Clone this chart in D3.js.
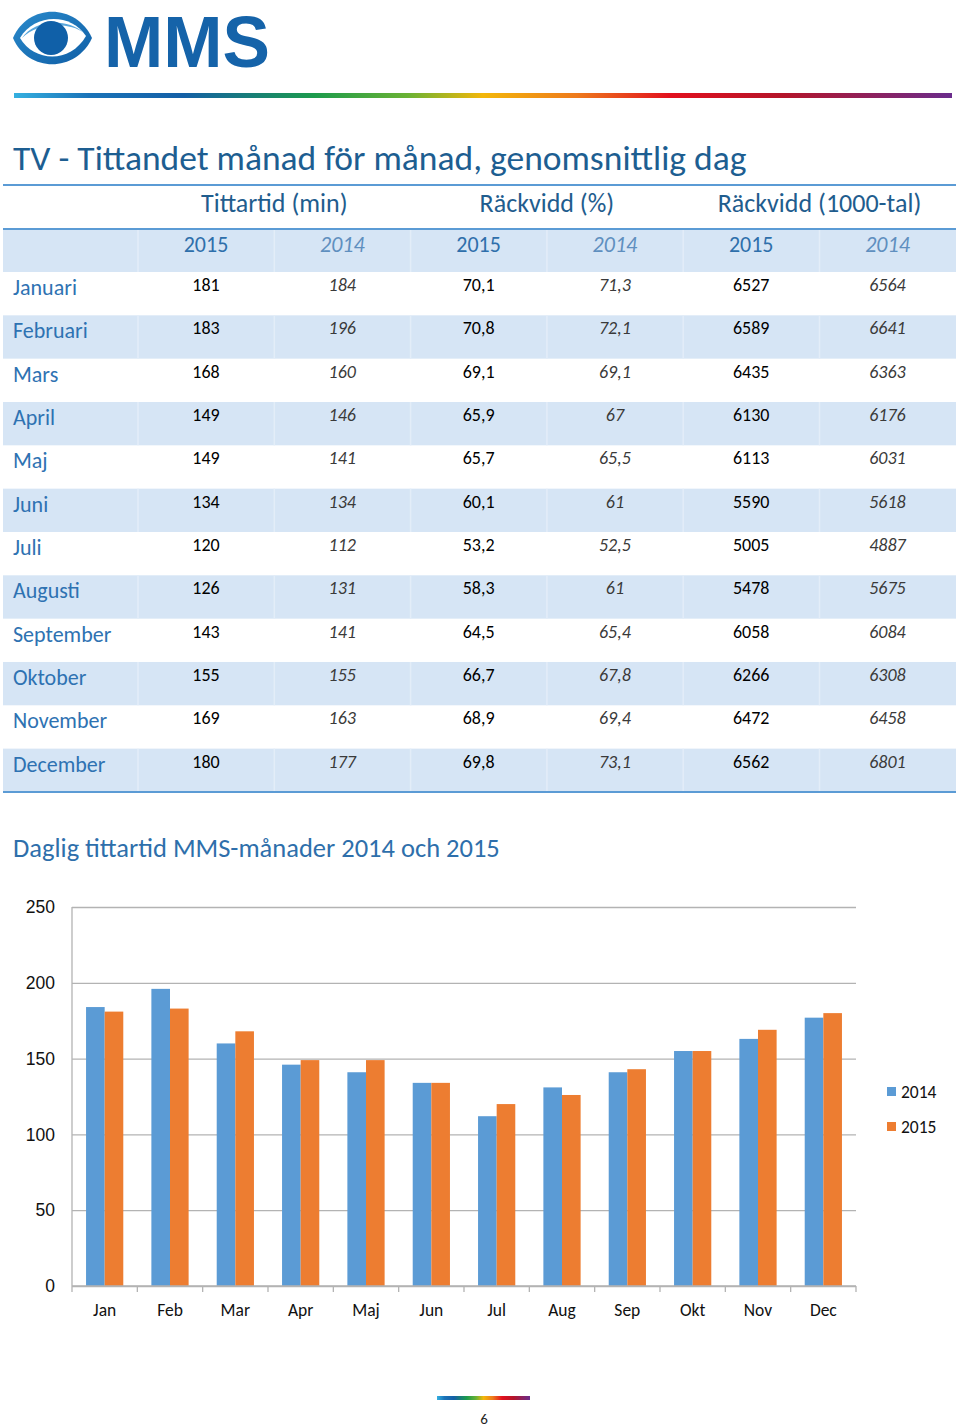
<!DOCTYPE html>
<html><head><meta charset="utf-8">
<script src="https://cdn.jsdelivr.net/npm/d3@7"></script>
<style>
body{margin:0;background:#fff;}
svg{display:block;font-family:Carlito,Calibri,Lato,"Open Sans",sans-serif;}
</style></head>
<body><svg id="c" width="960" height="1428"></svg>
<script>
const months = ["Januari","Februari","Mars","April","Maj","Juni","Juli","Augusti","September","Oktober","November","December"];
const monthShort = ["Jan","Feb","Mar","Apr","Maj","Jun","Jul","Aug","Sep","Okt","Nov","Dec"];
const tid2015 = [181,183,168,149,149,134,120,126,143,155,169,180];
const tid2014 = [184,196,160,146,141,134,112,131,141,155,163,177];
const rpct2015 = ["70,1","70,8","69,1","65,9","65,7","60,1","53,2","58,3","64,5","66,7","68,9","69,8"];
const rpct2014 = ["71,3","72,1","69,1","67","65,5","61","52,5","61","65,4","67,8","69,4","73,1"];
const rtal2015 = [6527,6589,6435,6130,6113,5590,5005,5478,6058,6266,6472,6562];
const rtal2014 = [6564,6641,6363,6176,6031,5618,4887,5675,6084,6308,6458,6801];
const groupHeaders = ["Tittartid (min)","Räckvidd (%)","Räckvidd (1000-tal)"];
const yearHeaders = ["2015","2014","2015","2014","2015","2014"];
const yTicks = [0,50,100,150,200,250];
const seriesNames = ["2014","2015"];

const svg = d3.select("#c");
const defs = svg.append("defs");

// Rainbow gradient
const grad = defs.append("linearGradient").attr("id","rb").attr("x1","0").attr("x2","1").attr("y1","0").attr("y2","0");
[[0,"#35b0e0"],[0.08,"#1a73b8"],[0.18,"#145fa6"],[0.32,"#1c9b4c"],[0.42,"#6ab234"],[0.5,"#f3b70a"],[0.6,"#ee7a1c"],[0.7,"#e2101e"],[0.82,"#b4152a"],[1,"#6a2c8c"]]
 .forEach(([o,c])=>grad.append("stop").attr("offset",o).attr("stop-color",c));

// Logo
const eyeG = defs.append("linearGradient").attr("id","eg").attr("x1","0").attr("x2","1").attr("y1","0").attr("y2","1");
eyeG.append("stop").attr("offset",0).attr("stop-color","#2a8acb");
eyeG.append("stop").attr("offset",1).attr("stop-color","#0f5ea6");
const logo = svg.append("g");
logo.append("path").attr("d","M13,38 C28,3 76,3 92,38 C76,73 28,73 13,38 Z").attr("fill","url(#eg)");
logo.append("path").attr("d","M20,38 C34,14 70,12 86,36 C70,64 34,62 20,38 Z").attr("fill","#fff");
logo.append("path").attr("d","M22,38 C34,20 66,17 84,33 C70,22 38,22 22,38 Z").attr("fill","#5aa7dc");
logo.append("circle").attr("cx",51).attr("cy",38).attr("r",17).attr("fill","#1060a8");
logo.append("text").attr("x",104).attr("y",67).attr("textLength",166).attr("lengthAdjust","spacingAndGlyphs")
  .style("font-family","'Liberation Sans Narrow','Liberation Sans',Arial,sans-serif").style("font-weight","bold")
  .style("font-size","72px").attr("fill","#1563a9").text("MMS");

svg.append("rect").attr("x",14).attr("y",93).attr("width",938).attr("height",5).attr("fill","url(#rb)");
svg.append("rect").attr("x",437).attr("y",1396).attr("width",93).attr("height",4).attr("fill","url(#rb)");
svg.append("text").attr("x",484).attr("y",1424).attr("text-anchor","middle").style("font-size","15px").attr("fill","#222").text("6");

// Title
svg.append("text").attr("x",13).attr("y",170).style("font-size","35.5px").attr("fill","#1d5e91")
  .text("TV - Tittandet månad för månad, genomsnittlig dag");

// Table
const tableX0 = 3, tableX1 = 956;
const colX = d3.range(7).map(i=>138 + i*136.3);
const rowTop = 272, rowH = 43.33;
const blueRows = [{y:229,h:43}];
months.forEach((m,i)=>{ if(i%2===1) blueRows.push({y:rowTop+i*rowH,h:rowH}); });
blueRows.forEach(r=>{
  svg.append("rect").attr("x",tableX0).attr("y",r.y).attr("width",tableX1-tableX0).attr("height",r.h).attr("fill","#d6e5f5");
  colX.slice(0,6).forEach(x=>{
    svg.append("line").attr("x1",x).attr("x2",x).attr("y1",r.y).attr("y2",r.y+r.h).attr("stroke","#e3edf8").attr("stroke-width",1.5);
  });
});
[185,229,792].forEach(y=>svg.append("line").attr("x1",tableX0).attr("x2",tableX1).attr("y1",y).attr("y2",y).attr("stroke","#5b9bd5").attr("stroke-width",2));
groupHeaders.forEach((h,i)=>{
  svg.append("text").attr("x",(colX[i*2]+colX[i*2+2])/2).attr("y",212).attr("text-anchor","middle")
    .style("font-size","26px").attr("fill","#1f5d8e").text(h);
});
yearHeaders.forEach((h,i)=>{
  svg.append("text").attr("x",colX[i]+68).attr("y",252).attr("text-anchor","middle")
    .style("font-size","22px").style("font-style",i%2?"italic":"normal").attr("fill",i%2?"#5f8fbf":"#2e6fab").text(h);
});
const cols = [tid2015,tid2014,rpct2015,rpct2014,rtal2015,rtal2014];
months.forEach((m,i)=>{
  const y = rowTop + i*rowH;
  svg.append("text").attr("x",13).attr("y",y+23).style("font-size","22px").attr("fill","#2e72b2").text(m);
  cols.forEach((c,j)=>{
    svg.append("text").attr("x",colX[j]+68).attr("y",y+19).attr("text-anchor","middle")
      .style("font-size","18px").style("font-style",j%2?"italic":"normal").attr("fill",j%2?"#3a3a3a":"#000").text(c[i]);
  });
});

// Chart title
svg.append("text").attr("x",13).attr("y",857).style("font-size","26.5px").attr("fill","#2e6fab")
  .text("Daglig tittartid MMS-månader 2014 och 2015");

// Chart
const x0 = 72, x1 = 856, yTop = 907, yBot = 1286;
const x = d3.scaleBand().domain(monthShort).range([x0,x1]).paddingInner(0.43).paddingOuter(0.215);
const xs = d3.scaleBand().domain(seriesNames).range([0,x.bandwidth()]);
const y = d3.scaleLinear().domain([0,250]).range([yBot,yTop]);
const colors = {"2014":"#5b9bd5","2015":"#ed7d31"};

const g = svg.append("g");
g.append("g").attr("transform",`translate(${x0},0)`)
  .call(d3.axisLeft(y).tickValues(yTicks).tickSize(-(x1-x0)).tickFormat(d3.format("d")))
  .call(a=>{a.select(".domain").remove();
    a.selectAll(".tick line").attr("stroke","#b3b3b3").attr("stroke-width",1.3);
    a.selectAll(".tick text").attr("x",-17).style("font-size","17.5px").style("font-family","inherit").attr("fill","#111");});
g.append("line").attr("x1",x0).attr("x2",x0).attr("y1",yTop).attr("y2",yBot).attr("stroke","#b3b3b3").attr("stroke-width",1.3);

const data = monthShort.map((m,i)=>({m, "2014":tid2014[i], "2015":tid2015[i]}));
seriesNames.forEach(s=>{
  g.selectAll(null).data(data).enter().append("rect")
    .attr("x",d=>x(d.m)+xs(s)).attr("width",xs.bandwidth())
    .attr("y",d=>y(d[s])).attr("height",d=>yBot-y(d[s])).attr("fill",colors[s]);
});
// x axis
g.append("line").attr("x1",x0).attr("x2",x1).attr("y1",yBot).attr("y2",yBot).attr("stroke","#b3b3b3").attr("stroke-width",1.3);
const step = x.step();
d3.range(13).forEach(i=>{
  g.append("line").attr("x1",x0+i*step).attr("x2",x0+i*step).attr("y1",yBot).attr("y2",yBot+6).attr("stroke","#b3b3b3").attr("stroke-width",1.3);
});
monthShort.forEach(m=>{
  g.append("text").attr("x",x(m)+x.bandwidth()/2).attr("y",1316).attr("text-anchor","middle")
    .style("font-size","17.5px").attr("fill","#111").text(m);
});
// legend
seriesNames.forEach((s,i)=>{
  const ly = 1092 + i*35;
  svg.append("rect").attr("x",887).attr("y",ly-5).attr("width",9).attr("height",9).attr("fill",colors[s]);
  svg.append("text").attr("x",901).attr("y",ly+6).style("font-size","17.5px").attr("fill","#111").text(s);
});
</script></body></html>
